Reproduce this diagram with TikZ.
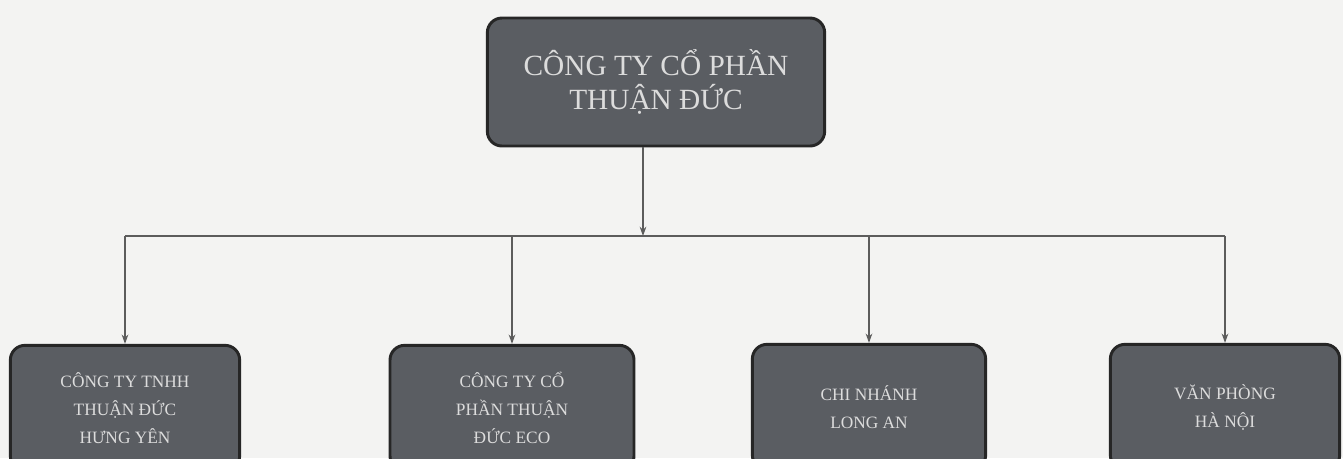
\documentclass[tikz,border=0pt]{standalone}
\usepackage{fontspec}
\setmainfont{Liberation Serif}
\usetikzlibrary{positioning,arrows.meta}
\definecolor{paper}{HTML}{F3F3F2}
\definecolor{boxfill}{HTML}{5A5D62}
\definecolor{boxtext}{HTML}{DCDCDC}
\definecolor{linkgray}{HTML}{5C5C5C}
\tikzset{
  unitbox/.style={draw=black!85, line width=2.2pt, fill=boxfill, rounded corners=11pt,
    text=boxtext, align=center, inner sep=0pt},
  headbox/.style={unitbox, minimum width=253pt, minimum height=96pt,
    font=\fontsize{22}{26}\selectfont},
  subbox/.style={unitbox, minimum width=#1, minimum height=94pt,
    font=\fontsize{13}{21}\selectfont},
  link/.style={draw=linkgray, line width=0.9pt, -{Stealth[length=7pt,width=5pt]}}
}
\begin{document}
\begin{tikzpicture}[x=0.75pt,y=-0.75pt]
\useasboundingbox (0,0) rectangle (1343,458);
\fill[paper] (0,0) rectangle (1343,458);
\clip (0,0) rectangle (1343,458);
% company and its units
\node[headbox] (ctcp) at (656,82) {CÔNG TY CỔ PHẦN\\THUẬN ĐỨC};
\node[subbox=172pt] (hy) at (125,408) {CÔNG TY TNHH\\THUẬN ĐỨC\\HƯNG YÊN};
\node[subbox=183pt] (eco) at (512,408) {CÔNG TY CỔ\\PHẦN THUẬN\\ĐỨC ECO};
\node[subbox=175pt] (la) at (869,407) {CHI NHÁNH\\LONG AN};
\node[subbox=172pt] (hn) at (1225,407) {VĂN PHÒNG\\HÀ NỘI};
\coordinate (bus) at (643,236);
\draw[link] (ctcp.south -| bus) -- (bus);
\draw[linkgray, line width=0.9pt] (bus -| hy) -- (bus -| hn);
\foreach \u in {hy,eco,la,hn}
	\draw[link] (bus -| \u) -- (\u.north);
\end{tikzpicture}
\end{document}
